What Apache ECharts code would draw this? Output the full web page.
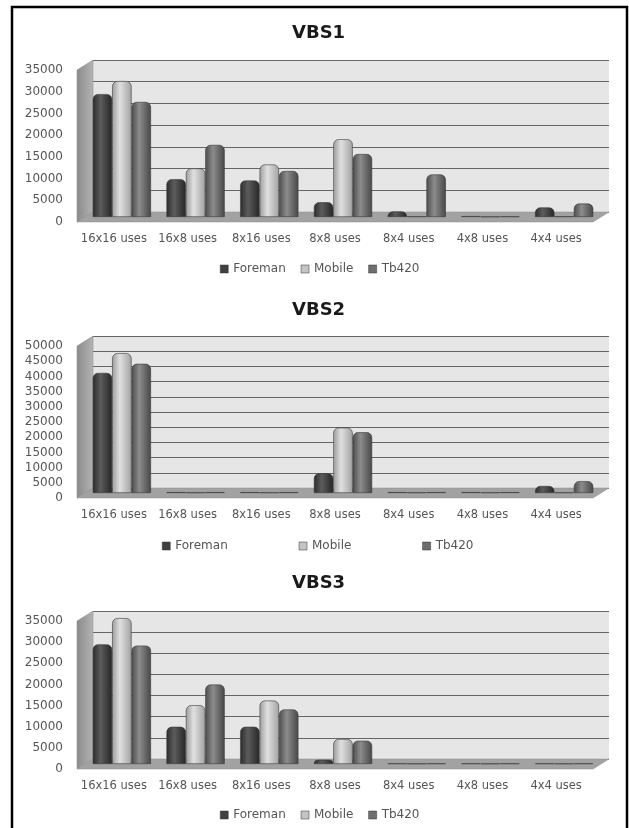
<!DOCTYPE html>
<html>
<head>
<meta charset="utf-8">
<title>VBS</title>
<script src="https://cdn.jsdelivr.net/npm/echarts@6/dist/echarts.min.js"></script>
<style>
html, body { margin: 0; padding: 0; background: #fff; }
#main { width: 629px; height: 828px; }
</style>
</head>
<body>
<div id="main"></div>
<script>
// data
var categories = ['16x16 uses', '16x8 uses', '8x16 uses', '8x8 uses', '8x4 uses', '4x8 uses', '4x4 uses'];
var seriesNames = ['Foreman', 'Mobile', 'Tb420'];
var titles = ['VBS1', 'VBS2', 'VBS3'];
var yMax = [35000, 50000, 35000];

var vbs1Foreman = [28300, 8700, 8400, 3400, 1300, 200, 2200];
var vbs1Mobile = [31300, 11200, 12100, 17900, 150, 100, 150];
var vbs1Tb420 = [26500, 16600, 10600, 14500, 9800, 150, 3100];

var vbs2Foreman = [39500, 300, 300, 6500, 300, 300, 2300];
var vbs2Mobile = [46000, 200, 200, 21500, 200, 200, 200];
var vbs2Tb420 = [42500, 300, 300, 20000, 300, 300, 3900];

var vbs3Foreman = [28300, 8800, 8800, 1000, 150, 150, 150];
var vbs3Mobile = [34500, 13900, 15000, 5900, 100, 100, 100];
var vbs3Tb420 = [28000, 18800, 12900, 5500, 150, 150, 150];

var allData = [
	[vbs1Foreman, vbs1Mobile, vbs1Tb420],
	[vbs2Foreman, vbs2Mobile, vbs2Tb420],
	[vbs3Foreman, vbs3Mobile, vbs3Tb420]
];

(function() {
	// layout of each panel (front plane of the fake 3d box)
	var plotTop = [70, 346, 621];
	var plotBottom = [222, 498, 769];
	var plotLeft = 77;
	var plotWidth = 516;
	var depthX = 16, depthY = 10;
	var titleY = [24, 301, 574];
	var legendY = [263, 540, 809];
	var legendLeft = [220, 162, 220];
	var legendGap = [15, 71, 15];

	var font = 'DejaVu Sans';

	function cylinder(edge, mid, edge2) {
		return new echarts.graphic.LinearGradient(0, 0, 1, 0, [
			{ offset: 0, color: edge },
			{ offset: 0.4, color: mid },
			{ offset: 1, color: edge2 }
		]);
	}
	var barColors = [
		['#2c2c2c', '#5c5c5c', '#262626'],
		['#9c9c9c', '#e0e0e0', '#a2a2a2'],
		['#4c4c4c', '#8c8c8c', '#474747']
	];
	var legendColors = ['#404040', '#c4c4c4', '#6e6e6e'];

	var myChart = echarts.init(document.getElementById('main'));

	var option = {
		backgroundColor: '#fff',
		animation: false,
		title: [],
		legend: [],
		grid: [],
		xAxis: [],
		yAxis: [],
		series: [],
		graphic: [{
			type: 'rect',
			shape: { x: 12, y: 7, width: 615, height: 840 },
			style: { fill: null, stroke: '#000', lineWidth: 2.5 },
			z: 10
		}]
	};

	for (var c = 0; c < 3; c++) {
		var yTop = plotTop[c], yBot = plotBottom[c], h = yBot - yTop;
		var g = c * 3;

		option.title.push({
			text: titles[c],
			left: 292,
			top: titleY[c],
			padding: 0,
			textStyle: { fontFamily: font, fontSize: 18, fontWeight: 'bold', color: '#1a1a1a' }
		});

		option.legend.push({
			data: seriesNames.map(function(n, i) {
				return { name: n, itemStyle: { color: legendColors[i], borderColor: '#333', borderWidth: 0.5 } };
			}),
			left: legendLeft[c],
			top: legendY[c],
			icon: 'rect',
			itemWidth: 8,
			itemHeight: 8,
			itemGap: legendGap[c],
			padding: 0,
			selectedMode: false,
			textStyle: { fontFamily: font, fontSize: 12, color: '#555' }
		});

		// back wall with gridlines
		option.grid.push({
			left: plotLeft + depthX, top: yTop - depthY, width: plotWidth, height: h,
			show: true, backgroundColor: '#e6e6e6', borderWidth: 0
		});
		// bars sit half way into the box
		option.grid.push({
			left: plotLeft + depthX / 2, top: yTop - depthY / 2, width: plotWidth, height: h
		});
		// front plane, carries the labels
		option.grid.push({
			left: plotLeft, top: yTop, width: plotWidth, height: h
		});

		option.xAxis.push({ type: 'category', gridIndex: g, data: categories, show: false });
		option.xAxis.push({ type: 'category', gridIndex: g + 1, data: categories, show: false });
		option.xAxis.push({
			type: 'category', gridIndex: g + 2, data: categories,
			axisLine: { show: false }, axisTick: { show: false },
			axisLabel: { fontFamily: font, fontSize: 11.5, color: '#555', margin: 11, interval: 0 }
		});

		option.yAxis.push({
			type: 'value', gridIndex: g, min: 0, max: yMax[c], interval: 5000,
			axisLine: { show: false }, axisTick: { show: false }, axisLabel: { show: false },
			splitLine: { lineStyle: { color: '#666', width: 1.2 } }
		});
		option.yAxis.push({
			type: 'value', gridIndex: g + 1, min: 0, max: yMax[c], interval: 5000, show: false
		});
		option.yAxis.push({
			type: 'value', gridIndex: g + 2, min: 0, max: yMax[c], interval: 5000,
			axisLine: { show: false }, axisTick: { show: false },
			splitLine: { show: false },
			axisLabel: {
				fontFamily: font, fontSize: 12, color: '#555', margin: 14,
				formatter: function(v) { return String(v); }
			}
		});

		for (var s = 0; s < 3; s++) {
			option.series.push({
				name: seriesNames[s],
				type: 'bar',
				xAxisIndex: g + 1,
				yAxisIndex: g + 1,
				data: allData[c][s],
				barGap: '0%',
				barCategoryGap: '21%',
				z: 5,
				itemStyle: {
					color: cylinder(barColors[s][0], barColors[s][1], barColors[s][2]),
					borderColor: '#3a3a3a',
					borderWidth: 0.6,
					borderRadius: [5, 5, 0, 0]
				}
			});
		}

		// side wall and floor of the box
		option.graphic.push({
			type: 'polygon',
			shape: { points: [[plotLeft, yTop], [plotLeft + depthX, yTop - depthY], [plotLeft + depthX, yBot - depthY], [plotLeft, yBot]] },
			style: {
				fill: new echarts.graphic.LinearGradient(0, 0, 1, 0, [
					{ offset: 0, color: '#8a8a8a' }, { offset: 1, color: '#b4b4b4' }
				]),
				stroke: '#8a8a8a', lineWidth: 0.5
			},
			z: 1
		});
		option.graphic.push({
			type: 'polygon',
			shape: { points: [[plotLeft, yBot], [plotLeft + depthX, yBot - depthY], [plotLeft + depthX + plotWidth, yBot - depthY], [plotLeft + plotWidth, yBot]] },
			style: { fill: '#a2a2a2', stroke: '#8c8c8c', lineWidth: 0.5 },
			z: 1
		});
	}

	myChart.setOption(option);
})();
</script>
</body>
</html>
